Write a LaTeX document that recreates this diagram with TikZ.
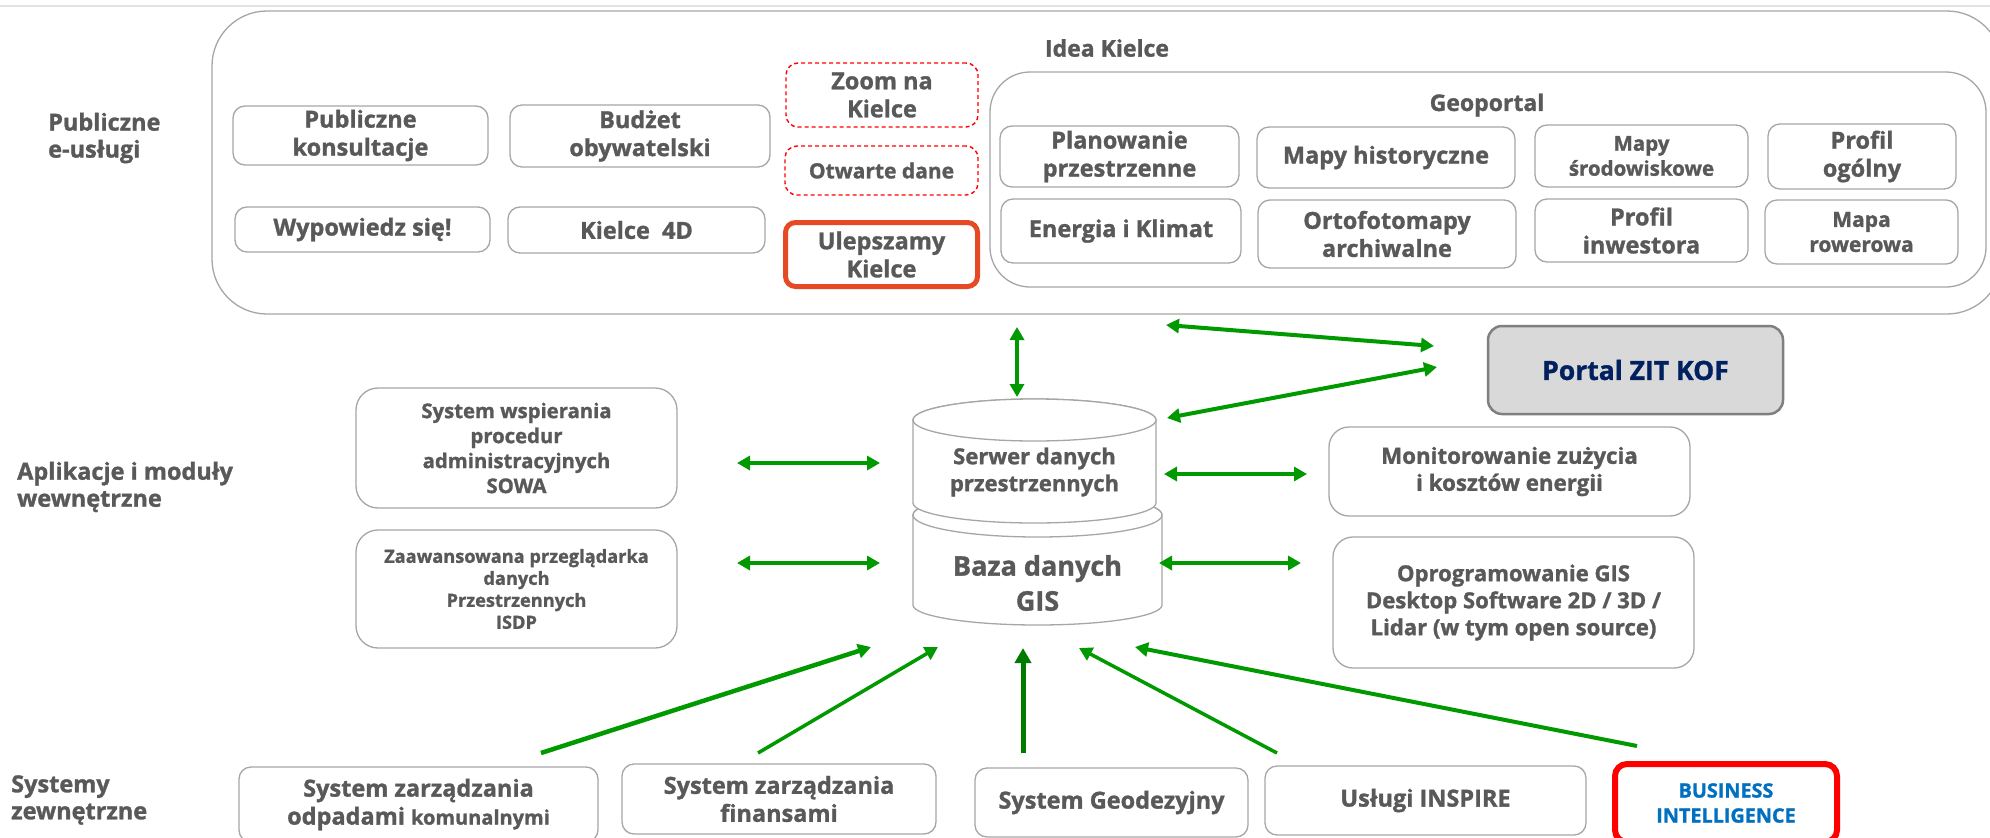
\documentclass[tikz,border=0pt]{standalone}
\usepackage{fontspec}
\setmainfont{Open Sans}[BoldFeatures={FakeBold=1.2}]
\usetikzlibrary{arrows.meta}
\definecolor{txt}{HTML}{595959}
\definecolor{bord}{HTML}{A6A6A6}
\definecolor{grn}{HTML}{009900}
\definecolor{dgrn}{HTML}{007A00}
\definecolor{ulep}{HTML}{E64A25}
\definecolor{navy}{HTML}{002060}
\definecolor{bib}{HTML}{0070C0}
\definecolor{pgray}{HTML}{D9D9D9}
\definecolor{pbord}{HTML}{7F7F7F}
\definecolor{topline}{HTML}{E3E3E3}
\newcommand\fz[2]{\fontsize{#1}{#2}\selectfont}
\begin{document}
\begin{tikzpicture}[x=1pt,y=-1pt,
  box/.style={draw=bord, line width=1.3pt, rounded corners=12pt, fill=white, align=center, text=txt, font=\bfseries\fz{23.5}{28}, inner sep=0pt},
  reddash/.style={box, draw=red, dash pattern=on 4pt off 3pt, line width=1.4pt},
  lbl/.style={align=left, text=txt, font=\bfseries\fz{23.5}{27}, anchor=west, inner sep=0pt},
  plain/.style={align=center, text=txt, font=\bfseries\fz{22}{27}, inner sep=0pt},
  dbl/.style={{Triangle[length=13pt,width=14pt]}-{Triangle[length=13pt,width=14pt]}, draw=grn, line width=4pt},
  one/.style={-{Triangle[length=13pt,width=14pt]}, draw=grn, line width=4pt},
  cyl/.style={draw=bord, line width=1.3pt, fill=white},
]
\useasboundingbox (0,0) rectangle (1990,838);
\fill[white] (0,0) rectangle (1990,838);
\draw[topline, line width=2pt] (0,6) -- (1990,6);

% containers
\node[draw=bord, line width=1.3pt, rounded corners=55pt, minimum width=1790pt, minimum height=303pt, inner sep=0pt] (idea) at (1107,162.5) {};
\node[plain, font=\bfseries\fz{23}{27}] (idealbl) at (1107,48) {Idea Kielce};
\node[draw=bord, line width=1.3pt, rounded corners=40pt, minimum width=996pt, minimum height=215pt, inner sep=0pt] (geo) at (1488,179.5) {};
\node[plain, font=\bfseries\fz{23}{27}] (geolbl) at (1487,105) {Geoportal};

% row labels
\node[lbl] (l1) at (48,138) {Publiczne\\e-usługi};
\node[lbl] (l2) at (17,487) {Aplikacje i moduły\\wewnętrzne};
\node[lbl] (l3) at (11,800) {Systemy\\zewnętrzne};

% public e-services
\node[box, minimum width=255pt, minimum height=59pt] (pubkons) at (360.5,135.5) {Publiczne\\konsultacje};
\node[box, minimum width=260pt, minimum height=62pt] (budzet) at (640,136) {Budżet\\obywatelski};
\node[box, minimum width=255pt, minimum height=45pt] (wyp) at (362.5,229.5) {Wypowiedz się!};
\node[box, minimum width=257pt, minimum height=46pt] (k4d) at (636.5,230) {Kielce~ 4D};
\node[reddash, minimum width=192pt, minimum height=64pt] (zoom) at (882,95) {Zoom na\\Kielce};
\node[reddash, minimum width=193pt, minimum height=49pt, font=\bfseries\fz{21}{25}] (otw) at (881.5,170.5) {Otwarte dane};
\node[box, draw=ulep, line width=5pt, minimum width=192pt, minimum height=64pt, rounded corners=10pt] (ulep) at (881.5,254.5) {Ulepszamy\\Kielce};

% geoportal
\node[box, minimum width=239pt, minimum height=61pt] (plan) at (1119.5,156.5) {Planowanie\\przestrzenne};
\node[box, minimum width=258pt, minimum height=61pt] (mhist) at (1386,157.5) {Mapy historyczne};
\node[box, minimum width=213pt, minimum height=62pt, font=\bfseries\fz{20.5}{25}] (msrod) at (1641.5,156) {Mapy\\środowiskowe};
\node[box, minimum width=188pt, minimum height=65pt] (pog) at (1862,156.5) {Profil\\ogólny};
\node[box, minimum width=240pt, minimum height=64pt] (energ) at (1121,231) {Energia i Klimat};
\node[box, minimum width=258pt, minimum height=68pt] (orto) at (1387,234) {Ortofotomapy\\archiwalne};
\node[box, minimum width=213pt, minimum height=63pt] (pinw) at (1641.5,230.5) {Profil\\inwestora};
\node[box, minimum width=193pt, minimum height=64pt, font=\bfseries\fz{21}{25}] (mrow) at (1861.5,232) {Mapa\\rowerowa};

% internal apps
\node[box, rounded corners=22pt, minimum width=321pt, minimum height=120pt, font=\bfseries\fz{20.3}{25}] (sowa) at (516.5,448) {System wspierania\\procedur\\administracyjnych\\SOWA};
\node[box, rounded corners=22pt, minimum width=321pt, minimum height=118pt, font=\bfseries\fz{18.2}{22}] (isdp) at (516.5,589) {Zaawansowana przeglądarka\\danych\\Przestrzennych\\ISDP};
\node[box, draw=pbord, fill=pgray, line width=2.5pt, rounded corners=14pt, minimum width=295pt, minimum height=88pt, text=navy, font=\bfseries\fz{26.5}{32}] (portal) at (1635.5,370) {Portal ZIT KOF};
\node[box, rounded corners=20pt, minimum width=361pt, minimum height=89pt, font=\bfseries\fz{22.3}{27}] (monit) at (1509.5,471.5) {Monitorowanie zużycia\\i kosztów energii};
\node[box, rounded corners=20pt, minimum width=361pt, minimum height=131pt, font=\bfseries\fz{22.1}{27}] (oprog) at (1513.5,602.5) {Oprogramowanie GIS\\Desktop Software 2D / 3D /\\Lidar (w tym open source)};

% cylinders
\path[cyl] (913,515) -- (913,605) arc[start angle=180, end angle=0, x radius=124.5, y radius=20] -- (1162,515) arc[start angle=0, end angle=-180, x radius=124.5, y radius=22] -- cycle;
\draw[cyl] (1037.5,515) ellipse [x radius=124.5, y radius=22];
\path[cyl] (913,420) -- (913,503) arc[start angle=180, end angle=0, x radius=121.5, y radius=20] -- (1156,420) arc[start angle=0, end angle=-180, x radius=121.5, y radius=21] -- cycle;
\draw[cyl] (1034.5,420) ellipse [x radius=121.5, y radius=21];
\node[plain] (serwer) at (1034.5,472) {Serwer danych\\przestrzennych};
\node[plain, font=\bfseries\fz{27}{35}] (baza) at (1037.5,583) {Baza danych\\GIS};

% external systems
\node[box, minimum width=359pt, minimum height=75pt] (odp) at (418.5,804.5) {System zarządzania\\odpadami {\fz{20}{28}komunalnymi}};
\node[box, minimum width=314pt, minimum height=70pt] (fin) at (779,799) {System zarządzania\\finansami};
\node[box, minimum width=273pt, minimum height=69pt] (geod) at (1111.5,802.5) {System Geodezyjny};
\node[box, minimum width=321pt, minimum height=69pt] (insp) at (1425.5,800.5) {Usługi INSPIRE};
\node[box, draw=red, line width=6pt, minimum width=222pt, minimum height=78pt, text=bib, font=\bfseries\fz{19.8}{25}] (bi) at (1726,803) {BUSINESS\\INTELLIGENCE};

% arrow end points
\coordinate (ideaS) at (1017,327);
\coordinate (serwN) at (1017,397);
\coordinate (ideaSE) at (1166,325);
\coordinate (portW1) at (1434,346);
\coordinate (serwNE) at (1167,418);
\coordinate (portW2) at (1437,367);
\coordinate (sowaE) at (737,463);
\coordinate (serwW) at (880,463);
\coordinate (isdpE) at (737,563);
\coordinate (bazaW) at (880,563);
\coordinate (serwE) at (1164,474);
\coordinate (monitW) at (1307,474);
\coordinate (bazaE) at (1159,563);
\coordinate (oprogW) at (1301,563);
\coordinate (odpN) at (541,753);
\coordinate (bazaS1) at (871,647);
\coordinate (finN) at (758,753);
\coordinate (bazaS2) at (938,647);
\coordinate (geodN) at (1023,753);
\coordinate (bazaS3) at (1023,648);
\coordinate (inspN) at (1277,753);
\coordinate (bazaS4) at (1079,648);
\coordinate (biN) at (1637,746);
\coordinate (bazaS5) at (1135,647);

% connectors
\draw[dbl, line width=3.5pt] (ideaS) -- (serwN);
\draw[dbl] (ideaSE) -- (portW1);
\draw[dbl] (serwNE) -- (portW2);
\draw[dbl] (sowaE) -- (serwW);
\draw[dbl] (isdpE) -- (bazaW);
\draw[dbl] (serwE) -- (monitW);
\draw[dbl] (bazaE) -- (oprogW);
\draw[one, line width=4.5pt] (odpN) -- (bazaS1);
\draw[one, line width=3.5pt] (finN) -- (bazaS2);
\draw[one, draw=dgrn, line width=5pt, -{Triangle[length=15pt,width=16pt]}] (geodN) -- (bazaS3);
\draw[one, line width=3.5pt] (inspN) -- (bazaS4);
\draw[one] (biN) -- (bazaS5);
\end{tikzpicture}
\end{document}
